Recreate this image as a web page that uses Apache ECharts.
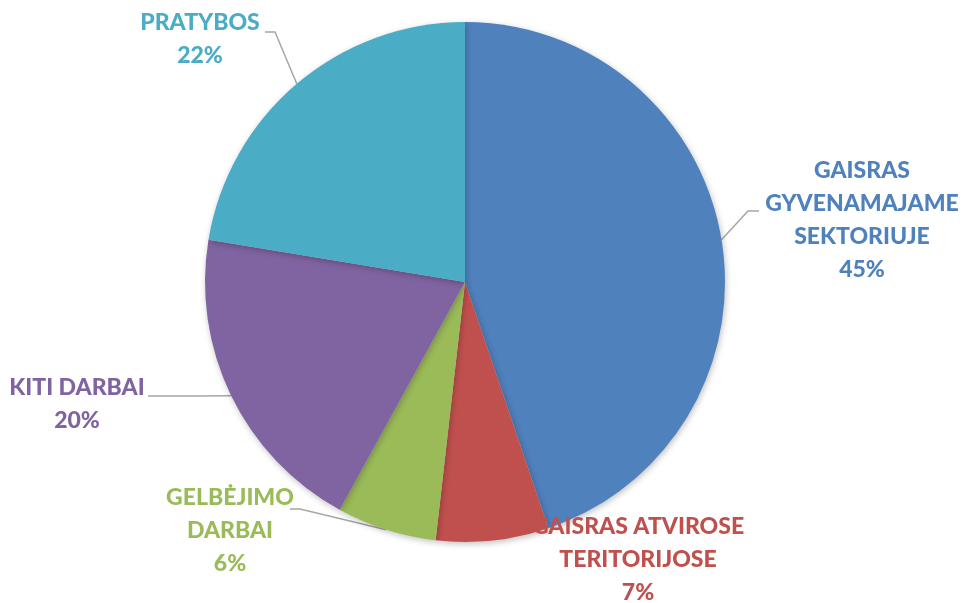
<!DOCTYPE html>
<html>
<head>
<meta charset="utf-8">
<script src="https://cdn.jsdelivr.net/npm/echarts@6/dist/echarts.min.js"></script>
<style>
  html, body { margin: 0; padding: 0; background: #fff; }
  #chart { width: 962px; height: 603px; }
</style>
</head>
<body>
<div id="chart"></div>
<script>
var categories = ['GAISRAS\nGYVENAMAJAME\nSEKTORIUJE', 'GAISRAS ATVIROSE\nTERITORIJOSE', 'GELBĖJIMO\nDARBAI', 'KITI DARBAI', 'PRATYBOS'];
var values = [44.8, 7.0, 6.2, 19.6, 22.4];
var colors = ['#4f81bd', '#c0504d', '#9bbb59', '#8064a2', '#4bacc6'];

// label placement (text anchor + elbow of the leader line)
var labelPos = [
  { x: 862, y: 220, elbow: [[748, 211], [759, 211]] },
  { x: 638, y: 560, elbow: null },
  { x: 230, y: 531, elbow: [[300, 509], [290, 509]] },
  { x: 77, y: 404, elbow: [[200, 396], [148, 396]] },
  { x: 200, y: 39, elbow: [[275, 32], [265, 32]] }
];

var pieData = [];
for (var i = 0; i < categories.length; i++) {
  pieData.push({
    name: categories[i],
    value: values[i],
    itemStyle: { color: colors[i] },
    label: { color: colors[i] },
    labelLine: { show: labelPos[i].elbow != null }
  });
}

var chart = echarts.init(document.getElementById('chart'));
chart.setOption({
  animation: false,
  series: [{
    type: 'pie',
    center: [465, 282],
    radius: 260,
    startAngle: 90,
    clockwise: true,
    percentPrecision: 0,
    avoidLabelOverlap: false,
    data: pieData,
    itemStyle: {
      borderWidth: 0,
      shadowBlur: 6,
      shadowColor: 'rgba(0,0,0,0.25)',
      shadowOffsetX: 1,
      shadowOffsetY: 2
    },
    label: {
      show: true,
      position: 'outside',
      formatter: '{b}\n{d}%',
      fontFamily: 'Lato',
      fontWeight: 900,
      fontSize: 23,
      lineHeight: 33,
      align: 'center',
      overflow: 'none'
    },
    labelLine: {
      show: true,
      lineStyle: { color: '#a6a6a6', width: 1.5 }
    },
    labelLayout: function (params) {
      var p = labelPos[params.dataIndex];
      var out = { x: p.x, y: p.y, align: 'center', verticalAlign: 'middle' };
      if (p.elbow && params.labelLinePoints) {
        out.labelLinePoints = [params.labelLinePoints[0], p.elbow[0], p.elbow[1]];
      }
      return out;
    }
  }]
});
</script>
</body>
</html>
